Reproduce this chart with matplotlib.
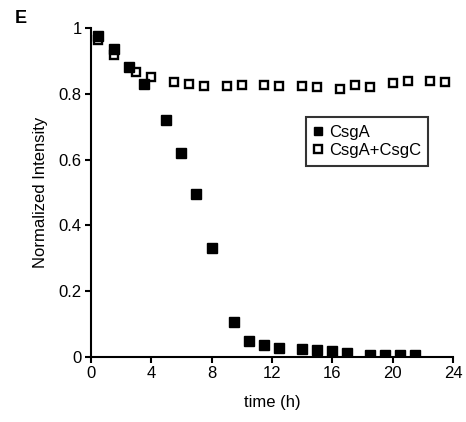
import matplotlib
matplotlib.use("Agg")
import matplotlib.pyplot as plt

plt.rcParams['font.family'] = ['Liberation Sans', 'DejaVu Sans']

csga_t = [0.5, 1.5, 2.5, 3.5, 5.0, 6.0, 7.0, 8.0, 9.5, 10.5, 11.5, 12.5,
          14.0, 15.0, 16.0, 17.0, 18.5, 19.5, 20.5, 21.5]
csga_y = [0.975, 0.935, 0.88, 0.83, 0.72, 0.62, 0.495, 0.332, 0.105, 0.05,
          0.036, 0.027, 0.024, 0.021, 0.017, 0.012, 0.007, 0.007, 0.005, 0.005]

csgc_t = [0.5, 1.5, 3.0, 4.0, 5.5, 6.5, 7.5, 9.0, 10.0, 11.5, 12.5, 14.0,
          15.0, 16.5, 17.5, 18.5, 20.0, 21.0, 22.5, 23.5]
csgc_y = [0.962, 0.918, 0.866, 0.852, 0.835, 0.829, 0.823, 0.823, 0.826,
          0.826, 0.823, 0.823, 0.820, 0.814, 0.826, 0.820, 0.832, 0.840,
          0.840, 0.836]

xticks = [0, 4, 8, 12, 16, 20, 24]
yticks = [0, 0.2, 0.4, 0.6, 0.8, 1]
ytick_labels = ['0', '0.2', '0.4', '0.6', '0.8', '1']

fig = plt.figure(figsize=(4.66, 4.22), dpi=100)
ax = fig.add_axes([0.195, 0.154, 0.777, 0.78])

ax.plot(csgc_t, csgc_y, linestyle='none', marker='s', markersize=6,
        markerfacecolor='white', markeredgecolor='black', markeredgewidth=1.7,
        label='CsgA+CsgC', zorder=3)
ax.plot(csga_t, csga_y, linestyle='none', marker='s', markersize=6.5,
        markerfacecolor='black', markeredgecolor='black',
        label='CsgA', zorder=4)

ax.set_xlim(0, 24)
ax.set_ylim(0, 1)
ax.set_xticks(xticks)
ax.set_yticks(yticks)
ax.set_yticklabels(ytick_labels)
for s in ['top', 'right']:
    ax.spines[s].set_visible(False)
for s in ['left', 'bottom']:
    ax.spines[s].set_linewidth(1.5)
ax.tick_params(direction='out', length=4.5, width=1.5, labelsize=12, pad=2)
for lbl in ax.get_xticklabels() + ax.get_yticklabels():
    lbl.set_clip_on(False)

ax.set_xlabel('time (h)', fontsize=12, labelpad=10)
ax.set_ylabel('Normalized Intensity', fontsize=12, labelpad=8)

handles, labels = ax.get_legend_handles_labels()
leg = ax.legend(handles[::-1], labels[::-1], loc='upper left',
                bbox_to_anchor=(0.595, 0.728), fontsize=12, frameon=True,
                fancybox=False, edgecolor='black', handlelength=0.5,
                handletextpad=0.4, borderpad=0.45, labelspacing=0.2,
                borderaxespad=0, markerscale=0.85)
leg.get_frame().set_linewidth(1.5)

fig.text(0.045, 0.955, 'E', fontsize=13, fontweight='bold', ha='center', va='center')

fig.savefig('out.png', dpi=100)
